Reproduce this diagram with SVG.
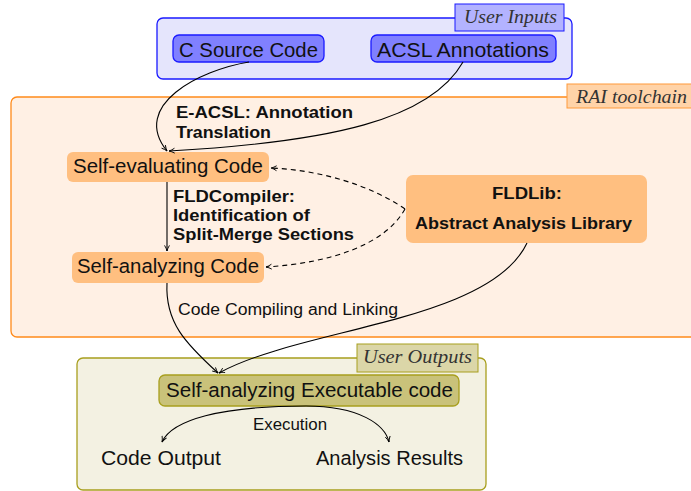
<svg xmlns="http://www.w3.org/2000/svg" width="691" height="491" viewBox="0 0 691 491">
  <style>
    .sans { font-family: "Liberation Sans", "DejaVu Sans", sans-serif; fill: #111; }
    .node { font-size: 20.5px; }
    .bold { font-size: 16.5px; font-weight: bold; }
    .lbl { font-size: 16px; }
    .tag { font-family: "Liberation Serif", serif; font-style: italic; font-size: 18px; fill: #333; }
    .conn { fill: none; stroke: #000; stroke-width: 1.1; }
    .dash { stroke-dasharray: 5 4; }
  </style>
  <defs>
    <marker id="arr" viewBox="0 0 10 10" refX="9" refY="5" markerWidth="7" markerHeight="7" markerUnits="userSpaceOnUse" orient="auto">
      <path d="M1,1.5 Q5,4 9,5 Q5,6 1,8.5" fill="none" stroke="#000" stroke-width="1.3"/>
    </marker>
  </defs>

  <!-- container: user inputs -->
  <g id="user-inputs">
    <rect x="157" y="18" width="415" height="61" rx="6" fill="#e5e5fc" stroke="#1a1aff" stroke-width="1.3"/>
    <rect x="455" y="4" width="109" height="27" fill="#b3b3ff" stroke="#1a1aff" stroke-width="1"/>
    <text class="tag" x="464" y="23" textLength="93" lengthAdjust="spacingAndGlyphs">User Inputs</text>
  </g>

  <!-- container: RAI toolchain -->
  <g id="rai-toolchain">
    <rect x="11" y="97" width="690" height="240" rx="6" fill="#fff0e4" stroke="#ff8a1a" stroke-width="1.3"/>
    <rect x="567" y="84" width="130" height="24" fill="#ffd3a8" stroke="#ff9a3a" stroke-width="1"/>
    <text class="tag" x="576" y="103" textLength="111" lengthAdjust="spacingAndGlyphs">RAI toolchain</text>
  </g>

  <!-- container: user outputs -->
  <g id="user-outputs">
    <rect x="77" y="358" width="409" height="132" rx="6" fill="#f3f1e2" stroke="#a89f1e" stroke-width="1.3"/>
    <rect x="357" y="344" width="121" height="28" fill="#dbd6a8" stroke="#a89f1e" stroke-width="1"/>
    <text class="tag" x="363" y="363" textLength="109" lengthAdjust="spacingAndGlyphs">User Outputs</text>
  </g>

  <g id="c-source">
    <rect x="173" y="35" width="151" height="27" rx="6" fill="#8080ff" stroke="#1a1aff" stroke-width="1.3"/>
    <text class="sans node" x="179" y="57" textLength="139" lengthAdjust="spacingAndGlyphs">C Source Code</text>
  </g>
  <g id="acsl">
    <rect x="371" y="35" width="185" height="27" rx="6" fill="#8080ff" stroke="#1a1aff" stroke-width="1.3"/>
    <text class="sans node" x="377" y="57" textLength="172" lengthAdjust="spacingAndGlyphs">ACSL Annotations</text>
  </g>
  <g id="self-evaluating">
    <rect x="67" y="152" width="202" height="30" rx="6" fill="#ffbf80"/>
    <text class="sans node" x="73" y="173" textLength="190" lengthAdjust="spacingAndGlyphs">Self-evaluating Code</text>
  </g>
  <g id="self-analyzing">
    <rect x="72" y="252" width="192" height="31" rx="6" fill="#ffbf80"/>
    <text class="sans node" x="77" y="273" textLength="182" lengthAdjust="spacingAndGlyphs">Self-analyzing Code</text>
  </g>
  <g id="fldlib">
    <rect x="406" y="175" width="241" height="68" rx="7" fill="#ffbf80"/>
    <text class="sans bold" x="492" y="199" textLength="70" lengthAdjust="spacingAndGlyphs">FLDLib:</text>
    <text class="sans bold" x="415" y="229" textLength="217" lengthAdjust="spacingAndGlyphs">Abstract Analysis Library</text>
  </g>
  <g id="executable">
    <rect x="159" y="375" width="300" height="31" rx="6" fill="#c9c27a" stroke="#a89f1e" stroke-width="1.3"/>
    <text class="sans node" x="166" y="397" textLength="287" lengthAdjust="spacingAndGlyphs">Self-analyzing Executable code</text>
  </g>
  <g id="code-output">
    <text class="sans node" x="101" y="465" textLength="120" lengthAdjust="spacingAndGlyphs">Code Output</text>
  </g>
  <g id="analysis-results">
    <text class="sans node" x="316" y="465" textLength="147" lengthAdjust="spacingAndGlyphs">Analysis Results</text>
  </g>

  <!-- connectors -->
  <g id="connectors">
    <path class="conn" marker-end="url(#arr)" d="M249,62 C200,70 130,105 167,151"/>
    <path class="conn" marker-end="url(#arr)" d="M463,62 C430,120 330,142 169,151"/>
    <path class="conn" marker-end="url(#arr)" d="M167,182 L167,251"/>
    <path class="conn dash" marker-end="url(#arr)" d="M405,209 C370,185 320,170 271,168"/>
    <path class="conn dash" marker-end="url(#arr)" d="M405,209 C385,245 330,263 266,267"/>
    <path class="conn" marker-end="url(#arr)" d="M167,283 C165,322 185,343 218,373"/>
    <path class="conn" marker-end="url(#arr)" d="M527,243 C490,322 300,328 219,373"/>
    <path class="conn" marker-end="url(#arr)" d="M306,406 C220,406 172,420 162,442"/>
    <path class="conn" marker-end="url(#arr)" d="M306,406 C360,406 385,425 389,442"/>

    <text class="sans bold" x="176" y="118" textLength="177" lengthAdjust="spacingAndGlyphs">E-ACSL: Annotation</text>
    <text class="sans bold" x="176" y="138" textLength="95" lengthAdjust="spacingAndGlyphs">Translation</text>
    <text class="sans bold" x="173" y="202" textLength="122" lengthAdjust="spacingAndGlyphs">FLDCompiler:</text>
    <text class="sans bold" x="173" y="221" textLength="137" lengthAdjust="spacingAndGlyphs">Identification of</text>
    <text class="sans bold" x="173" y="240" textLength="181" lengthAdjust="spacingAndGlyphs">Split-Merge Sections</text>
    <text class="sans lbl" x="178" y="315" textLength="220" lengthAdjust="spacingAndGlyphs">Code Compiling and Linking</text>
    <text class="sans lbl" x="253" y="430" textLength="74" lengthAdjust="spacingAndGlyphs">Execution</text>
  </g>
</svg>
